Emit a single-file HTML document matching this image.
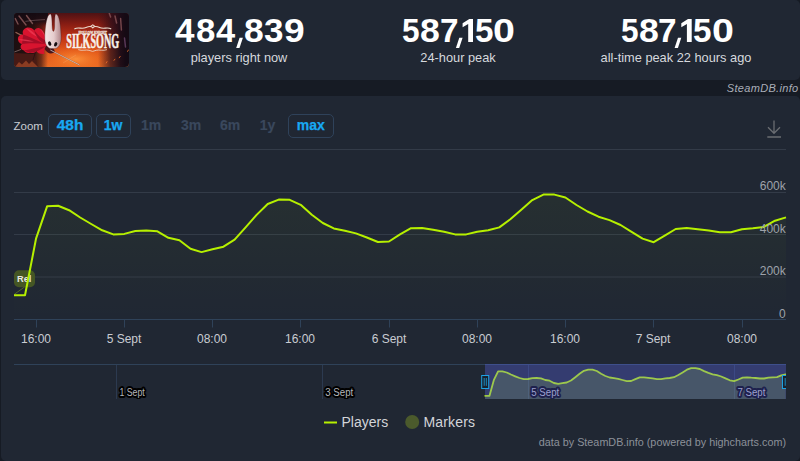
<!DOCTYPE html>
<html>
<head>
<meta charset="utf-8">
<style>
html,body{margin:0;padding:0;}
body{width:800px;height:461px;overflow:hidden;background:#161b24;font-family:"Liberation Sans",sans-serif;position:relative;}
.panel{position:absolute;background:#202733;border-radius:5px;}
#p1{left:1px;top:0;width:799px;height:80px;}
#p2{left:1px;top:96.3px;width:799px;height:365px;}
.abs{position:absolute;white-space:nowrap;}
.g{position:absolute;font-size:33px;font-weight:bold;color:#fff;line-height:41.25px;height:41.25px;transform-origin:0 0;white-space:nowrap;}
.num{position:absolute;top:11px;height:34px;line-height:34px;font-size:28px;font-weight:bold;color:#fff;text-align:center;width:200px;transform:scaleX(1.25);transform-origin:50% 50%;}
.lbl{position:absolute;top:49.5px;height:16px;line-height:16px;font-size:12.8px;color:#d6d9de;text-align:center;width:240px;}
.zb{position:absolute;top:114px;height:22px;line-height:20.8px;border:1px solid #2f425a;border-radius:5px;color:#18a8f2;-webkit-text-stroke:0.25px #18a8f2;font-weight:bold;font-size:14px;text-align:center;box-sizing:content-box;}
.zd{position:absolute;top:115px;height:22px;line-height:20.8px;color:#3a485d;-webkit-text-stroke:0.2px #3a485d;font-weight:bold;font-size:14px;text-align:center;}
.xl{position:absolute;top:331.5px;height:14px;line-height:14px;font-size:12px;color:#c9ccd2;width:60px;text-align:center;}
.yl{position:absolute;height:12px;line-height:12px;font-size:12px;color:#9ea2aa;width:40px;text-align:right;left:745.8px;}
.nl{position:absolute;top:386px;height:12px;line-height:12px;font-size:9.5px;}
</style>
</head>
<body>
<div class="panel" id="p1"></div>
<div class="panel" id="p2"></div>

<!-- game image -->
<svg class="abs" style="left:13.7px;top:12.7px;border-radius:4px;" width="115.5" height="54" viewBox="0 0 115.5 54">
<defs>
<linearGradient id="base" x1="0" y1="0" x2="0" y2="54" gradientUnits="userSpaceOnUse">
<stop offset="0" stop-color="#4e1214"/>
<stop offset="0.2" stop-color="#861c13"/>
<stop offset="0.45" stop-color="#c03215"/>
<stop offset="0.7" stop-color="#de561c"/>
<stop offset="1" stop-color="#ec7026"/>
</linearGradient>
<radialGradient id="glow" cx="62" cy="46" r="24" gradientUnits="userSpaceOnUse" gradientTransform="translate(62 46) scale(1.5 0.6) translate(-62 -46)">
<stop offset="0" stop-color="#ff9a40" stop-opacity="0.8"/>
<stop offset="0.6" stop-color="#f4701f" stop-opacity="0.4"/>
<stop offset="1" stop-color="#e0501a" stop-opacity="0"/>
</radialGradient>
<linearGradient id="dl" x1="0" y1="0" x2="34" y2="0" gradientUnits="userSpaceOnUse">
<stop offset="0" stop-color="#1c0e10" stop-opacity="1"/>
<stop offset="0.55" stop-color="#24100f" stop-opacity="0.97"/>
<stop offset="0.8" stop-color="#341212" stop-opacity="0.65"/>
<stop offset="1" stop-color="#3a1414" stop-opacity="0"/>
</linearGradient>
<linearGradient id="dtl" x1="0" y1="0" x2="0" y2="14" gradientUnits="userSpaceOnUse">
<stop offset="0" stop-color="#150b12" stop-opacity="1"/>
<stop offset="0.6" stop-color="#1c0d14" stop-opacity="0.8"/>
<stop offset="1" stop-color="#2a1014" stop-opacity="0"/>
</linearGradient>
<linearGradient id="dr" x1="84" y1="0" x2="112" y2="0" gradientUnits="userSpaceOnUse">
<stop offset="0" stop-color="#3a1016" stop-opacity="0"/>
<stop offset="0.45" stop-color="#30101a" stop-opacity="0.75"/>
<stop offset="0.8" stop-color="#1c0c18" stop-opacity="0.97"/>
<stop offset="1" stop-color="#150a14" stop-opacity="1"/>
</linearGradient>
<linearGradient id="mask" x1="31" y1="0" x2="47" y2="0" gradientUnits="userSpaceOnUse">
<stop offset="0" stop-color="#f3e6e6"/>
<stop offset="0.55" stop-color="#e6cccd"/>
<stop offset="1" stop-color="#b0868a"/>
</linearGradient>
</defs>
<rect width="115.5" height="54" fill="url(#base)"/>
<rect width="115.5" height="54" fill="url(#glow)"/>
<rect width="36" height="54" fill="url(#dl)"/>
<rect width="34" height="16" fill="url(#dtl)"/>
<rect x="84" width="31.5" height="54" fill="url(#dr)"/>
<!-- bottom-left dark foliage -->
<path d="M0 40 L20 41 L24 54 L0 54 Z" fill="#4a1c16" fill-opacity="0.9"/>
<path d="M1 54 L5 49 L8 51.5 L12 47.5 L15 51 L18 48 L21 51 L24 54 Z" fill="#8a3c22"/>
<path d="M22 37 L19 47" stroke="#2a1014" stroke-width="0.9" fill="none"/>
<!-- feathers top-left -->
<g stroke="#8a5a5a" stroke-width="1.4" stroke-linecap="round" fill="none" opacity="0.85">
<path d="M1.3 5.6 L4 11 M5 3 L12 12 M12.5 2.5 L18.5 10.5"/>
<path d="M2 19.5 L9.4 23.3" stroke="#a87060"/>
</g>
<!-- feathers right -->
<g stroke="#8a5458" stroke-width="1.5" stroke-linecap="round" fill="none" opacity="0.8">
<path d="M95.3 0.5 L96.6 4 M101 3 L102.6 10 M106.6 5.5 L107.4 17"/>
<path d="M110.5 25 L111.5 34" stroke="#6a4468"/>
</g>
<!-- sparks -->
<g stroke="#f0702a" stroke-width="0.9" stroke-linecap="round" opacity="0.9">
<path d="M92.2 50 L93 48.6 M100 47.4 L100.9 46.2 M105.2 44.8 L106.2 43.4 M113.6 38.4 L114.4 37"/>
</g>
<!-- silk threads -->
<path d="M11.4 8.4 C18 7.4 25 6.9 31 6.6" stroke="#c8a0a0" stroke-width="0.5" fill="none" opacity="0.7"/>
<path d="M0.3 39 L7.1 36.4" stroke="#e8c8c0" stroke-width="0.6" fill="none" opacity="0.7"/>
<path d="M49 50 L62 42" stroke="#f8c090" stroke-width="0.4" fill="none" opacity="0.6"/>
<!-- cloak -->
<path d="M33 28 C31 23 29.5 18 26 15.6 C23.5 14.4 21.3 15.6 20.4 17.6 C18.6 15 15 13.8 12 15 C9 16.2 8 19 9.2 21.5 C6 21 3.6 23.5 4 26.5 C4.2 29 6 30.6 8 31 C5.6 33 6.4 36.6 10 37.6 C11 39.6 13.6 40.4 16 39.8 C18.5 40.6 21 39.8 22.5 38 C23.5 40 26 41.5 30.6 41 C29.6 39 30 37 31.5 36 C33.5 35 35 33.5 35 31.5 Z" fill="#d8142f"/>
<path d="M33 28 C28 26 24 23 20.4 17.6 C21.4 23.5 25 27.5 30.5 31 Z M9.2 21.5 C15 23.5 22 27 30.5 31 C22 30 14 30 8 31 Z M10 37.6 C17 36 24 34.6 32 33 C27 37 21 39.4 16 39.8 Z" fill="#8f0a22" fill-opacity="0.7"/>
<path d="M26 15.6 C28.5 17 30.5 20 31.6 24.5 C29 21 28 18.5 26 15.6 Z M12 15 C16 16 20 19.5 23.5 24 C19 22 15 19 12 15 Z M4 26.5 C9 25.6 15 26.6 20 28.6 C14 28.4 9 28 4 26.5 Z" fill="#f2405a" fill-opacity="0.65"/>
<!-- dark body under mask -->
<path d="M30.5 36 C33 40.5 38 42 41 38.5 L38 33 L32 33 Z" fill="#4a1418"/>
<!-- needle -->
<path d="M36.3 37 L65.6 52" stroke="#3a2020" stroke-width="1.2" fill="none" opacity="0.5"/>
<path d="M36.3 37 L65.6 52" stroke="#e2dde0" stroke-width="0.7" fill="none"/>
<!-- mask -->
<path d="M36.2 0.9 C37.9 0.9 38 8 38.1 13 C38.2 20.2 40.6 20.2 40.7 13 C40.8 8 40.6 0.9 42 0.9 C45.4 1.6 46.8 13 47.1 24 C47.3 31 44.5 35.6 40.5 35.6 L37.5 35.6 C33.5 35.6 30.6 31 30.8 24 C31.1 13 32.8 1.6 36.2 0.9 Z" fill="url(#mask)" stroke="#3a1a20" stroke-width="0.3"/>
<ellipse cx="35.7" cy="30.6" rx="1.5" ry="2.3" fill="#140c10" transform="rotate(-22 35.7 30.6)"/>
<ellipse cx="41.7" cy="31.3" rx="1.5" ry="2.3" fill="#140c10" transform="rotate(22 41.7 31.3)"/>
<!-- title -->
<g fill="#f7f1ea" stroke="#f7f1ea" font-family="Liberation Serif, serif" font-weight="bold">
<text x="52.3" y="34.9" font-size="20.6" textLength="52.8" lengthAdjust="spacingAndGlyphs" stroke-width="0.55">SILKSONG</text>
<text x="64.5" y="20.5" font-size="4.4" textLength="28.4" lengthAdjust="spacingAndGlyphs" fill="#eadcd0" stroke="#eadcd0" stroke-width="0.4">HOLLOW KNIGHT</text>
</g>
<g stroke="#eadcd0" stroke-width="1.1" fill="none" stroke-linecap="round">
<path d="M60.8 15.8 C64 13.8 68 16.4 72 14.6 C75 13.2 77 12.6 78.8 14.8 C80.6 12.6 82.6 13.2 85.6 14.6 C89.6 16.4 93.6 13.8 96.8 15.8"/>
<path d="M76.6 13.4 L78.8 11.9 L81 13.4"/>
<path d="M64.6 36.8 C68 38.2 72 36.4 75 37.3 L78.6 38.4 L82.2 37.3 C85.2 36.4 89.2 38.2 92.6 36.8" stroke-width="0.8"/>
</g>
</svg>

<!-- numbers -->
<span class="g" style="left:175.35px;top:9.93px;transform:scaleX(1.0604);">4</span>
<span class="g" style="left:195.71px;top:9.93px;transform:scaleX(1.0555);">8</span>
<span class="g" style="left:216.06px;top:9.93px;transform:scaleX(1.0434);">4</span>
<span class="g" style="left:244.29px;top:9.93px;transform:scaleX(1.0739);">8</span>
<span class="g" style="left:264.42px;top:9.93px;transform:scaleX(1.0616);">3</span>
<span class="g" style="left:283.52px;top:9.93px;transform:scaleX(1.1260);">9</span>
<span class="g" style="left:401.91px;top:9.93px;transform:scaleX(0.9575);">5</span>
<span class="g" style="left:420.39px;top:9.93px;transform:scaleX(1.0801);">8</span>
<span class="g" style="left:439.74px;top:9.93px;transform:scaleX(1.0086);">7</span>
<span class="g" style="left:474.76px;top:9.93px;transform:scaleX(1.0062);">5</span>
<span class="g" style="left:493.40px;top:9.93px;transform:scaleX(1.1930);">0</span>
<span class="g" style="left:620.61px;top:9.93px;transform:scaleX(0.9575);">5</span>
<span class="g" style="left:639.09px;top:9.93px;transform:scaleX(1.0801);">8</span>
<span class="g" style="left:658.44px;top:9.93px;transform:scaleX(1.0086);">7</span>
<span class="g" style="left:693.46px;top:9.93px;transform:scaleX(1.0062);">5</span>
<span class="g" style="left:712.10px;top:9.93px;transform:scaleX(1.1930);">0</span>
<svg class="abs" style="left:0;top:0;" width="800" height="80" viewBox="0 0 800 80" fill="#fff">
<polygon points="239.6,37.8 242.9,37.8 239.5,47.9 236.2,47.9"/>
<polygon points="459.3,37.8 462.6,37.8 459.2,47.9 455.9,47.9"/>
<polygon points="473.0,19.1 473.0,42 468.2,42 468.2,24.0 462.6,27.2 462.6,23.3 469.3,19.1"/>
<polygon points="678.0,37.8 681.3,37.8 677.9,47.9 674.6,47.9"/>
<polygon points="691.7,19.1 691.7,42 686.9,42 686.9,24.0 681.3,27.2 681.3,23.3 688.0,19.1"/>
</svg>
<div class="lbl" style="left:119px;">players right now</div>
<div class="lbl" style="left:338px;">24-hour peak</div>
<div class="lbl" style="left:556px;">all-time peak 22 hours ago</div>

<div class="abs" style="left:700px;top:81px;width:98.5px;height:14px;line-height:14px;font-size:11px;letter-spacing:0.32px;font-style:italic;color:#a9aeb8;text-align:right;">SteamDB.info</div>

<!-- zoom -->
<div class="abs" style="left:13.5px;top:118px;height:16px;line-height:16px;font-size:11.5px;color:#c9ccd2;">Zoom</div>
<div class="zb" style="left:47.5px;width:42.5px;"><span style="display:inline-block;transform:scaleX(1.1);">48h</span></div>
<div class="zb" style="left:95.5px;width:33px;">1w</div>
<div class="zd" style="left:131px;width:40px;">1m</div>
<div class="zd" style="left:171px;width:40px;">3m</div>
<div class="zd" style="left:210px;width:40px;">6m</div>
<div class="zd" style="left:247.5px;width:40px;">1y</div>
<div class="zb" style="left:288px;width:43.5px;">max</div>

<!-- chart svg -->
<svg class="abs" style="left:0;top:0;" width="800" height="461" viewBox="0 0 800 461">
<defs>
<linearGradient id="ag" x1="0" y1="194" x2="0" y2="320" gradientUnits="userSpaceOnUse">
<stop offset="0" stop-color="#b6f000" stop-opacity="0.042"/>
<stop offset="1" stop-color="#b6f000" stop-opacity="0.0"/>
</linearGradient>
<clipPath id="navclip"><rect x="14" y="364" width="772" height="35"/></clipPath>
</defs>
<!-- download icon -->
<g stroke="#6a6d72" stroke-width="1.3" fill="none">
<path d="M774 120.5V133 M768 127.3L774 133.3L780 127.3 M767.3 137H781"/>
</g>
<!-- gridlines -->
<g stroke="#333b48" stroke-width="1">
<path d="M14 149.5H786 M14 192.5H786 M14 234.5H786 M14 277H786"/>
</g>
<!-- area + line -->
<path d="M14.0 295.3 L25.0 295.3 L36.1 238.3 L47.1 206.3 L58.1 205.7 L69.1 210.2 L80.2 217.5 L91.2 224.0 L102.2 230.3 L113.3 234.4 L124.3 233.9 L135.3 231.0 L146.3 230.5 L157.4 231.3 L168.4 237.8 L179.4 240.2 L190.5 248.7 L201.5 252.1 L212.5 249.3 L223.5 246.7 L234.6 239.6 L245.6 227.4 L256.6 214.9 L267.7 204.0 L278.7 199.6 L289.7 199.8 L300.7 204.8 L311.8 214.8 L322.8 223.0 L333.8 228.4 L344.9 230.8 L355.9 233.4 L366.9 237.5 L377.9 242.0 L389.0 241.5 L400.0 234.4 L411.0 228.2 L422.1 227.9 L433.1 229.7 L444.1 231.8 L455.1 234.4 L466.2 234.4 L477.2 231.8 L488.2 230.3 L499.3 227.4 L510.3 219.3 L521.3 209.7 L532.3 200.1 L543.4 194.6 L554.4 194.6 L565.4 197.5 L576.5 205.0 L587.5 211.5 L598.5 216.7 L609.5 220.1 L620.6 225.0 L631.6 231.8 L642.6 238.6 L653.7 242.2 L664.7 235.7 L675.7 229.0 L686.7 227.9 L697.8 229.2 L708.8 230.5 L719.8 232.3 L730.9 232.3 L741.9 229.2 L752.9 228.2 L763.9 226.9 L775.0 220.7 L786.0 217.4 L786 319.5 L14 319.5 Z" fill="url(#ag)"/>
<!-- flag -->
<path d="M24.5 287L14.3 294.3" stroke="#55682c" stroke-width="1"/>
<rect x="14" y="270.2" width="21" height="17" rx="5" fill="#485a24" fill-opacity="0.93"/>
<text x="24.2" y="281.8" text-anchor="middle" font-family="Liberation Sans, sans-serif" font-weight="bold" font-size="9.3" fill="#e8e8e2">Rel</text>
<path d="M14.0 295.3 L25.0 295.3 L36.1 238.3 L47.1 206.3 L58.1 205.7 L69.1 210.2 L80.2 217.5 L91.2 224.0 L102.2 230.3 L113.3 234.4 L124.3 233.9 L135.3 231.0 L146.3 230.5 L157.4 231.3 L168.4 237.8 L179.4 240.2 L190.5 248.7 L201.5 252.1 L212.5 249.3 L223.5 246.7 L234.6 239.6 L245.6 227.4 L256.6 214.9 L267.7 204.0 L278.7 199.6 L289.7 199.8 L300.7 204.8 L311.8 214.8 L322.8 223.0 L333.8 228.4 L344.9 230.8 L355.9 233.4 L366.9 237.5 L377.9 242.0 L389.0 241.5 L400.0 234.4 L411.0 228.2 L422.1 227.9 L433.1 229.7 L444.1 231.8 L455.1 234.4 L466.2 234.4 L477.2 231.8 L488.2 230.3 L499.3 227.4 L510.3 219.3 L521.3 209.7 L532.3 200.1 L543.4 194.6 L554.4 194.6 L565.4 197.5 L576.5 205.0 L587.5 211.5 L598.5 216.7 L609.5 220.1 L620.6 225.0 L631.6 231.8 L642.6 238.6 L653.7 242.2 L664.7 235.7 L675.7 229.0 L686.7 227.9 L697.8 229.2 L708.8 230.5 L719.8 232.3 L730.9 232.3 L741.9 229.2 L752.9 228.2 L763.9 226.9 L775.0 220.7 L786.0 217.4" fill="none" stroke="#b6f000" stroke-width="2" stroke-linejoin="round" stroke-linecap="butt"/>
<!-- axis -->
<g stroke="#2f4259" stroke-width="1">
<path d="M14 319.5H786"/>
<path d="M36.5 319V327.5 M124.5 319V327.5 M212.5 319V327.5 M300.5 319V327.5 M389.5 319V327.5 M477.5 319V327.5 M565.5 319V327.5 M653.5 319V327.5 M742.5 319V327.5"/>
</g>
<!-- navigator -->
<path d="M14 364.5H786" stroke="#2f4259" stroke-width="1"/>
<g stroke="#2c3a50" stroke-width="1">
<path d="M116.5 365V399 M322.5 365V399 M528.5 365V399 M734.5 365V399"/>
</g>
<g clip-path="url(#navclip)">
<path d="M485.2 395.8 L489.5 395.8 L493.8 380.2 L498.1 371.4 L502.4 371.3 L506.7 372.5 L510.9 374.5 L515.2 376.3 L519.5 378.0 L523.8 379.1 L528.1 379.0 L532.4 378.2 L536.7 378.0 L541.0 378.3 L545.3 380.0 L549.6 380.7 L553.9 383.0 L558.2 383.9 L562.4 383.2 L566.7 382.5 L571.0 380.5 L575.3 377.2 L579.6 373.8 L583.9 370.8 L588.2 369.6 L592.5 369.7 L596.8 371.0 L601.1 373.8 L605.4 376.0 L609.7 377.5 L613.9 378.1 L618.2 378.8 L622.5 380.0 L626.8 381.2 L631.1 381.0 L635.4 379.1 L639.7 377.4 L644.0 377.3 L648.3 377.8 L652.6 378.4 L656.9 379.1 L661.1 379.1 L665.4 378.4 L669.7 378.0 L674.0 377.2 L678.3 375.0 L682.6 372.4 L686.9 369.7 L691.2 368.2 L695.5 368.2 L699.8 369.0 L704.1 371.1 L708.4 372.9 L712.6 374.3 L716.9 375.2 L721.2 376.5 L725.5 378.4 L729.8 380.3 L734.1 381.2 L738.4 379.5 L742.7 377.6 L747.0 377.3 L751.3 377.7 L755.6 378.0 L759.9 378.5 L764.1 378.5 L768.4 377.7 L772.7 377.4 L777.0 377.1 L781.3 375.4 L785.6 374.5 L785.6 399 L485.2 399 Z" fill="#b6f000" fill-opacity="0.19"/>
<path d="M485.2 395.8 L489.5 395.8 L493.8 380.2 L498.1 371.4 L502.4 371.3 L506.7 372.5 L510.9 374.5 L515.2 376.3 L519.5 378.0 L523.8 379.1 L528.1 379.0 L532.4 378.2 L536.7 378.0 L541.0 378.3 L545.3 380.0 L549.6 380.7 L553.9 383.0 L558.2 383.9 L562.4 383.2 L566.7 382.5 L571.0 380.5 L575.3 377.2 L579.6 373.8 L583.9 370.8 L588.2 369.6 L592.5 369.7 L596.8 371.0 L601.1 373.8 L605.4 376.0 L609.7 377.5 L613.9 378.1 L618.2 378.8 L622.5 380.0 L626.8 381.2 L631.1 381.0 L635.4 379.1 L639.7 377.4 L644.0 377.3 L648.3 377.8 L652.6 378.4 L656.9 379.1 L661.1 379.1 L665.4 378.4 L669.7 378.0 L674.0 377.2 L678.3 375.0 L682.6 372.4 L686.9 369.7 L691.2 368.2 L695.5 368.2 L699.8 369.0 L704.1 371.1 L708.4 372.9 L712.6 374.3 L716.9 375.2 L721.2 376.5 L725.5 378.4 L729.8 380.3 L734.1 381.2 L738.4 379.5 L742.7 377.6 L747.0 377.3 L751.3 377.7 L755.6 378.0 L759.9 378.5 L764.1 378.5 L768.4 377.7 L772.7 377.4 L777.0 377.1 L781.3 375.4 L785.6 374.5" fill="none" stroke="#b6f000" stroke-width="1.8" stroke-linejoin="round" stroke-linecap="round"/>
<g font-family="Liberation Sans, sans-serif" font-size="10" fill="#b4b6bc" stroke="#000" stroke-width="3.8" stroke-linejoin="round" paint-order="stroke">
<text x="119.4" y="396" textLength="25.4" lengthAdjust="spacingAndGlyphs">1 Sept</text>
<text x="325.3" y="396" textLength="28" lengthAdjust="spacingAndGlyphs">3 Sept</text>
<text x="531.3" y="396" textLength="28" lengthAdjust="spacingAndGlyphs">5 Sept</text>
<text x="737.4" y="396" textLength="28" lengthAdjust="spacingAndGlyphs">7 Sept</text>
</g>
<rect x="485" y="364" width="301" height="35" fill="#636dfe" fill-opacity="0.3"/>
</g>
<!-- handles -->
<g>
<rect x="481.7" y="375.5" width="7" height="13" fill="#18222f" stroke="#1ea2e4" stroke-width="1"/>
<path d="M484.2 378V385.8 M486.3 378V385.8" stroke="#1ea2e4" stroke-width="0.8"/>
<g clip-path="url(#navclip)">
<rect x="782.5" y="375.5" width="7.5" height="13" fill="#18222f" stroke="#1ea2e4" stroke-width="1"/>
<path d="M785.2 378V385.8" stroke="#1ea2e4" stroke-width="0.8"/>
</g>
</g>
<!-- legend -->
<path d="M324 422.5H337" stroke="#b6f000" stroke-width="2"/>
<circle cx="412.2" cy="422" r="7" fill="#4b5a2c"/>
</svg>


<!-- y labels -->
<div class="yl" style="top:180px;">600k</div>
<div class="yl" style="top:222.5px;">400k</div>
<div class="yl" style="top:265px;">200k</div>
<div class="yl" style="top:307.5px;">0</div>

<!-- x labels -->
<div class="xl" style="left:6px;">16:00</div>
<div class="xl" style="left:94px;">5 Sept</div>
<div class="xl" style="left:182px;">08:00</div>
<div class="xl" style="left:270px;">16:00</div>
<div class="xl" style="left:359px;">6 Sept</div>
<div class="xl" style="left:447px;">08:00</div>
<div class="xl" style="left:535px;">16:00</div>
<div class="xl" style="left:623px;">7 Sept</div>
<div class="xl" style="left:712px;">08:00</div>

<!-- legend text -->
<div class="abs" style="left:341.5px;top:414.4px;height:16px;line-height:16px;font-size:14px;color:#d3d5d9;">Players</div>
<div class="abs" style="left:423.5px;top:414.4px;height:16px;line-height:16px;font-size:14px;letter-spacing:0.15px;color:#d3d5d9;">Markers</div>

<!-- credits -->
<div class="abs" style="left:486px;top:436px;width:300px;height:12px;line-height:12px;font-size:10.8px;color:#8c919a;text-align:right;">data by SteamDB.info (powered by highcharts.com)</div>
</body>
</html>
